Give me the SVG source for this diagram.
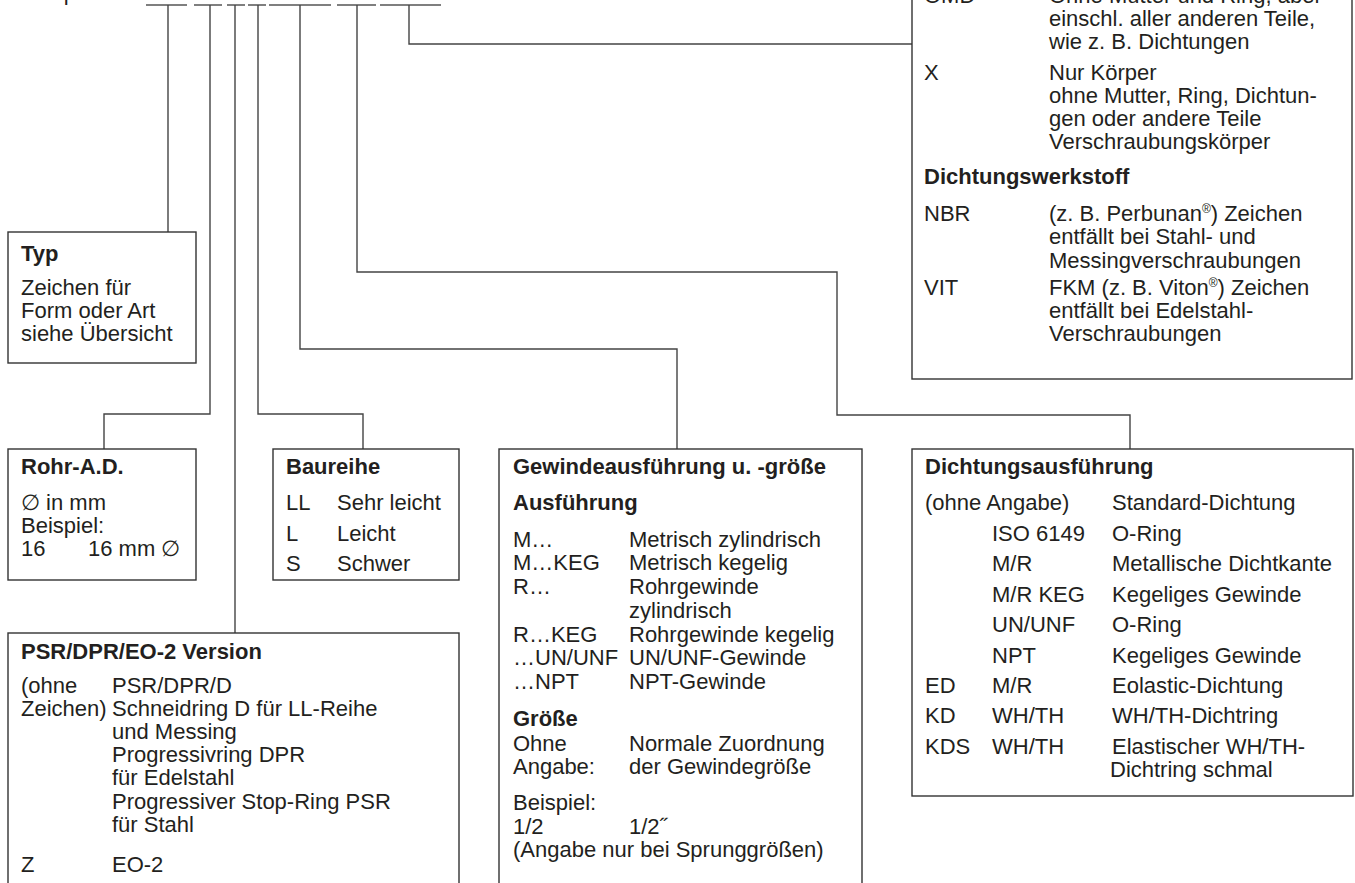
<svg xmlns="http://www.w3.org/2000/svg" width="1355" height="883" viewBox="0 0 1355 883">
<style>
text{font-family:"Liberation Sans",Arial,Helvetica,sans-serif;font-size:22px;fill:#231f20}
.b{font-weight:bold}
.sup{font-size:12px}
.box{fill:#fff;stroke:#333;stroke-width:1.4}
.con{fill:none;stroke:#444;stroke-width:1.4}
.code{fill:none;stroke:#555;stroke-width:1.4}
</style>
<rect width="1355" height="883" fill="#fff"/>
<text x="21" y="0">Beispiel:</text>
<g id="code" class="code">
<path d="M146 5H187M194 5H222M227 5H245M248 5H266M269 5H331M337 5H376M380 5H441"/>
</g>
<g id="connectors" class="con">
<path d="M168 5V232"/>
<path d="M210 5V414H104V449"/>
<path d="M235 5V633"/>
<path d="M258 5V414H363V449"/>
<path d="M300 5V349H677V449"/>
<path d="M357 5V272H837V415H1130V449"/>
<path d="M409 5V44H912"/>
</g>
<g id="ausfuehrung">
<rect class="box" x="912" y="-30" width="440" height="409"/>
<text x="924" y="3">OMD</text><text x="1049" y="3">Ohne Mutter und Ring, aber</text>
<text x="1049" y="26">einschl. aller anderen Teile,</text>
<text x="1049" y="49">wie z. B. Dichtungen</text>
<text x="924" y="80">X</text><text x="1049" y="80">Nur Körper</text>
<text x="1049" y="103">ohne Mutter, Ring, Dichtun-</text>
<text x="1049" y="126">gen oder andere Teile</text>
<text x="1049" y="149">Verschraubungskörper</text>
<text class="b" x="924" y="184">Dichtungswerkstoff</text>
<text x="924" y="221">NBR</text><text x="1049" y="221">(z. B. Perbunan<tspan class="sup" dy="-8">®</tspan><tspan dy="8">) Zeichen</tspan></text>
<text x="1049" y="244">entfällt bei Stahl- und</text>
<text x="1049" y="268">Messingverschraubungen</text>
<text x="924" y="295">VIT</text><text x="1049" y="295">FKM (z. B. Viton<tspan class="sup" dy="-8">®</tspan><tspan dy="8">) Zeichen</tspan></text>
<text x="1049" y="318">entfällt bei Edelstahl-</text>
<text x="1049" y="341">Verschraubungen</text>
</g>
<g id="typ">
<rect class="box" x="8" y="232" width="188" height="131"/>
<text class="b" x="21" y="261">Typ</text>
<text x="21" y="295">Zeichen für</text>
<text x="21" y="318">Form oder Art</text>
<text x="21" y="341">siehe Übersicht</text>
</g>
<g id="rohr">
<rect class="box" x="8" y="449" width="188" height="131"/>
<text class="b" x="21" y="474">Rohr-A.D.</text>
<text x="21" y="510">∅ in mm</text>
<text x="21" y="533">Beispiel:</text>
<text x="21" y="556">16</text><text x="88" y="556">16 mm ∅</text>
</g>
<g id="baureihe">
<rect class="box" x="273" y="449" width="186" height="131"/>
<text class="b" x="286" y="474">Baureihe</text>
<text x="286" y="510">LL</text><text x="337" y="510">Sehr leicht</text>
<text x="286" y="541">L</text><text x="337" y="541">Leicht</text>
<text x="286" y="571">S</text><text x="337" y="571">Schwer</text>
</g>
<g id="psr">
<rect class="box" x="8" y="633" width="451" height="280"/>
<text class="b" x="21" y="659">PSR/DPR/EO-2 Version</text>
<text x="21" y="693">(ohne</text><text x="112" y="693">PSR/DPR/D</text>
<text x="21" y="716">Zeichen)</text><text x="112" y="716">Schneidring D für LL-Reihe</text>
<text x="112" y="739">und Messing</text>
<text x="112" y="762">Progressivring DPR</text>
<text x="112" y="785">für Edelstahl</text>
<text x="112" y="809">Progressiver Stop-Ring PSR</text>
<text x="112" y="832">für Stahl</text>
<text x="21" y="872">Z</text><text x="112" y="872">EO-2</text>
</g>
<g id="gewinde">
<rect class="box" x="499" y="449" width="363" height="464"/>
<text class="b" x="513" y="474">Gewindeausführung u. -größe</text>
<text class="b" x="513" y="510">Ausführung</text>
<text x="513" y="547">M…</text><text x="629" y="547">Metrisch zylindrisch</text>
<text x="513" y="570">M…KEG</text><text x="629" y="570">Metrisch kegelig</text>
<text x="513" y="594">R…</text><text x="629" y="594">Rohrgewinde</text>
<text x="629" y="618">zylindrisch</text>
<text x="513" y="642">R…KEG</text><text x="629" y="642">Rohrgewinde kegelig</text>
<text x="513" y="665">…UN/UNF</text><text x="629" y="665">UN/UNF-Gewinde</text>
<text x="513" y="689">…NPT</text><text x="629" y="689">NPT-Gewinde</text>
<text class="b" x="513" y="726">Größe</text>
<text x="513" y="751">Ohne</text><text x="629" y="751">Normale Zuordnung</text>
<text x="513" y="774">Angabe:</text><text x="629" y="774">der Gewindegröße</text>
<text x="513" y="810">Beispiel:</text>
<text x="513" y="834">1/2</text><text x="629" y="834">1/2˝</text>
<text x="513" y="857">(Angabe nur bei Sprunggrößen)</text>
</g>
<g id="dichtung">
<rect class="box" x="912" y="449" width="441" height="347"/>
<text class="b" x="925" y="474">Dichtungsausführung</text>
<text x="925" y="510">(ohne Angabe)</text><text x="1112" y="510">Standard-Dichtung</text>
<text x="992" y="541">ISO 6149</text><text x="1112" y="541">O-Ring</text>
<text x="992" y="571">M/R</text><text x="1112" y="571">Metallische Dichtkante</text>
<text x="992" y="602">M/R KEG</text><text x="1112" y="602">Kegeliges Gewinde</text>
<text x="992" y="632">UN/UNF</text><text x="1112" y="632">O-Ring</text>
<text x="992" y="663">NPT</text><text x="1112" y="663">Kegeliges Gewinde</text>
<text x="925" y="693">ED</text><text x="992" y="693">M/R</text><text x="1112" y="693">Eolastic-Dichtung</text>
<text x="925" y="723">KD</text><text x="992" y="723">WH/TH</text><text x="1112" y="723">WH/TH-Dichtring</text>
<text x="925" y="754">KDS</text><text x="992" y="754">WH/TH</text><text x="1112" y="754">Elastischer WH/TH-</text>
<text x="1110" y="777">Dichtring schmal</text>
</g>
</svg>
